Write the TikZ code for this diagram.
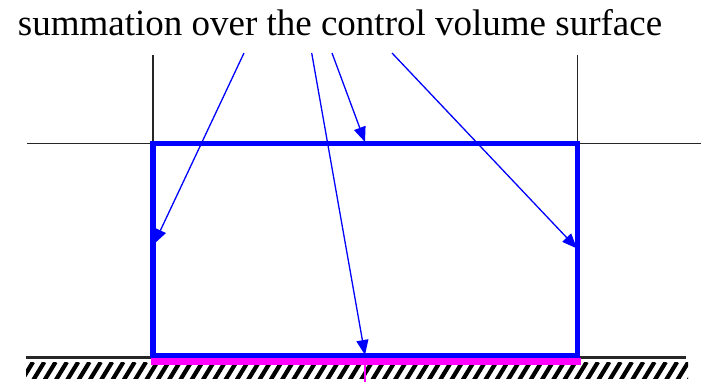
\documentclass[tikz,border=0pt]{standalone}
\usepackage{fontspec}
\setmainfont{Liberation Serif}
\usetikzlibrary{arrows.meta}
\definecolor{cvblue}{RGB}{0,0,255}
\definecolor{cvmag}{RGB}{255,0,255}
\begin{document}
\begin{tikzpicture}[x=1pt,y=-1pt,
  thinline/.style={black!85,line width=1.3pt},
  cvbox/.style={cvblue,line width=5.2pt},
  pointer/.style={cvblue,line width=1.3pt,-{Triangle[length=15pt,width=12pt]}},
  hatch/.style={black,line width=4.2pt},
  wall/.style={cvmag,line width=7pt}]
\useasboundingbox (0,0) rectangle (702,382);
% label
\node[anchor=base,inner sep=0pt,font=\fontsize{37}{40}\selectfont] (lbl) at (340,36) {summation over the control volume surface};
% thin grid lines
\coordinate (vlt) at (153,55); \coordinate (vlb) at (153,143.7);
\coordinate (vrt) at (577.5,55); \coordinate (vrb) at (577.5,143.7);
\coordinate (hl) at (27,143.7); \coordinate (hr) at (701,143.7);
\draw[thinline] (vlt) -- (vlb);
\draw[thinline] (vrt) -- (vrb);
\draw[thinline] (hl) -- (vlb);
\draw[thinline] (vrb) -- (hr);
% ground
\coordinate (gl) at (26,357.5); \coordinate (gr) at (686,357.5);
\draw[black!85,line width=2.2pt] (gl) -- (gr);
\begin{scope}
\clip (26,362.5) rectangle (688,378.5);
\foreach \x in {22,33.3,...,690} {
  \draw[hatch] (\x,380) -- ++(11,-18);
}
\end{scope}
% control volume
\coordinate (cvtl) at (153,143.7); \coordinate (cvbr) at (577.5,355.5);
\draw[cvbox] (cvtl) rectangle (cvbr);
% wall (magenta) and pink tick
\coordinate (wl) at (150.5,361); \coordinate (wr) at (580.5,361);
\draw[wall] (wl) -- (wr);
\coordinate (tk1) at (365,362); \coordinate (tk2) at (365,382);
\draw[cvmag,line width=1.3pt] (tk1) -- (tk2);
% pointers
\coordinate (s1) at (244,53); \coordinate (e1) at (154,244);
\coordinate (s2) at (311.7,53); \coordinate (e2) at (365,355);
\coordinate (s3) at (332,53); \coordinate (e3) at (365,142);
\coordinate (s4) at (392,53); \coordinate (e4) at (577,248.5);
\draw[pointer] (s1) -- (e1);
\draw[pointer] (s2) -- (e2);
\draw[pointer] (s3) -- (e3);
\draw[pointer] (s4) -- (e4);
\end{tikzpicture}
\end{document}
